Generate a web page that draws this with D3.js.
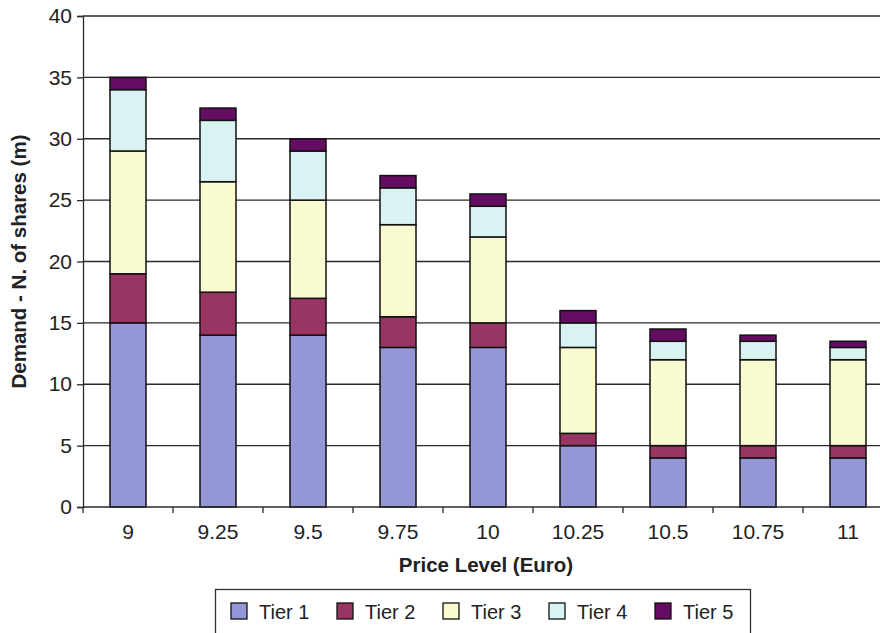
<!DOCTYPE html>
<html>
<head>
<meta charset="utf-8">
<script src="https://cdn.jsdelivr.net/npm/d3@7"></script>
<style>
  html, body { margin: 0; padding: 0; background: #fff; }
  svg { display: block; font-family: "Liberation Sans", Arial, Helvetica, sans-serif; }
</style>
</head>
<body>
<svg id="chart" width="880" height="633"></svg>
<script>
// Price levels (Euro) on the x axis
const priceLevels = ["9", "9.25", "9.5", "9.75", "10", "10.25", "10.5", "10.75", "11"];

// Demand per tier, millions of shares
const tier1 = [15, 14, 14, 13, 13, 5, 4, 4, 4];
const tier2 = [4, 3.5, 3, 2.5, 2, 1, 1, 1, 1];
const tier3 = [10, 9, 8, 7.5, 7, 7, 7, 7, 7];
const tier4 = [5, 5, 4, 3, 2.5, 2, 1.5, 1.5, 1];
const tier5 = [1, 1, 1, 1, 1, 1, 1, 0.5, 0.5];

const tierNames = ["Tier 1", "Tier 2", "Tier 3", "Tier 4", "Tier 5"];
const tierColors = ["#9596d5", "#993563", "#fafad1", "#d9f3f3", "#650c63"];
const yTicks = [0, 5, 10, 15, 20, 25, 30, 35, 40];

const tierValues = [tier1, tier2, tier3, tier4, tier5];
const rows = priceLevels.map((p, i) => {
  const r = { price: p };
  tierNames.forEach((t, k) => { r[t] = tierValues[k][i]; });
  return r;
});

const svg = d3.select("#chart");
const plotLeft = 83, plotTop = 16, plotBottom = 507, plotRight = 893;

const x = d3.scaleBand().domain(priceLevels).range([plotLeft, plotRight])
  .paddingInner(0.6).paddingOuter(0.3);
const y = d3.scaleLinear().domain([0, 40]).range([plotBottom, plotTop]);

// horizontal gridlines
svg.append("g").selectAll("line").data(yTicks.filter(d => d > 0)).join("line")
  .attr("x1", plotLeft).attr("x2", plotRight)
  .attr("y1", d => y(d)).attr("y2", d => y(d))
  .attr("stroke", "#2a2a2a").attr("stroke-width", 1.3);

// stacked bars
const stack = d3.stack().keys(tierNames)(rows);
const layers = svg.append("g").selectAll("g").data(stack).join("g")
  .attr("fill", (d, i) => tierColors[i]);
layers.selectAll("rect").data(d => d).join("rect")
  .attr("x", d => x(d.data.price))
  .attr("width", x.bandwidth())
  .attr("y", d => y(d[1]))
  .attr("height", d => y(d[0]) - y(d[1]))
  .attr("stroke", "#111").attr("stroke-width", 1.5);

// y axis
const yAxis = svg.append("g").attr("transform", `translate(${plotLeft},0)`)
  .call(d3.axisLeft(y).tickValues(yTicks).tickSize(6).tickPadding(5));
yAxis.select(".domain").attr("stroke", "#2a2a2a").attr("stroke-width", 1.3);
yAxis.selectAll(".tick line").attr("stroke", "#2a2a2a").attr("stroke-width", 1.3);
yAxis.selectAll(".tick text").attr("font-size", 21).attr("fill", "#222")
  .attr("font-family", "Liberation Sans, Arial, sans-serif");

// x axis with ticks at category boundaries
const xAxisG = svg.append("g").attr("transform", `translate(0,${plotBottom})`);
xAxisG.append("line").attr("x1", plotLeft).attr("x2", plotRight).attr("y1", 0).attr("y2", 0)
  .attr("stroke", "#2a2a2a").attr("stroke-width", 1.3);
const boundaries = priceLevels.map(p => x(p) - x.step() * x.paddingOuter()).concat([plotRight]);
xAxisG.selectAll("line.bt").data(boundaries).join("line").attr("class", "bt")
  .attr("x1", d => d).attr("x2", d => d).attr("y1", 0).attr("y2", 6)
  .attr("stroke", "#2a2a2a").attr("stroke-width", 1.3);
xAxisG.selectAll("text").data(priceLevels).join("text")
  .attr("x", d => x(d) + x.bandwidth() / 2).attr("y", 32)
  .attr("text-anchor", "middle").attr("font-size", 21).attr("fill", "#222")
  .text(d => d);

// axis titles
svg.append("text").attr("x", 486).attr("y", 572).attr("text-anchor", "middle")
  .attr("font-size", 20.5).attr("font-weight", "bold").attr("fill", "#222")
  .text("Price Level (Euro)");
svg.append("text").attr("transform", `translate(26,${(plotTop + plotBottom) / 2}) rotate(-90)`)
  .attr("text-anchor", "middle").attr("font-size", 20.5).attr("font-weight", "bold").attr("fill", "#222")
  .text("Demand - N. of shares (m)");

// legend
const legend = svg.append("g");
legend.append("rect").attr("x", 215.5).attr("y", 589.5).attr("width", 535).attr("height", 60)
  .attr("fill", "#fff").attr("stroke", "#333").attr("stroke-width", 1.3);
const items = legend.selectAll("g.item").data(tierNames).join("g").attr("class", "item")
  .attr("transform", (d, i) => `translate(${231 + i * 106},0)`);
items.append("rect").attr("x", 0).attr("y", 603).attr("width", 16).attr("height", 16)
  .attr("fill", (d, i) => tierColors[i]).attr("stroke", "#111").attr("stroke-width", 1.3);
items.append("text").attr("x", 28).attr("y", 619).attr("font-size", 20).attr("fill", "#222")
  .text(d => d);
</script>
</body>
</html>
